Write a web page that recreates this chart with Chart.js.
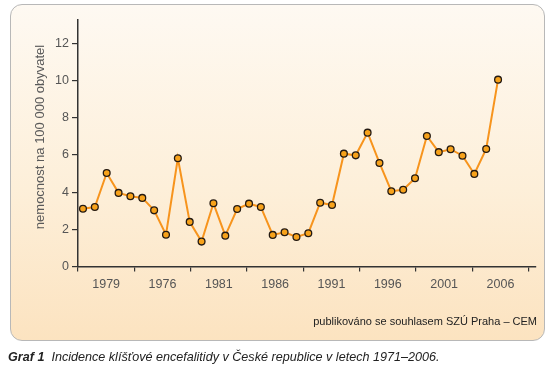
<!DOCTYPE html>
<html>
<head>
<meta charset="utf-8">
<script src="https://cdn.jsdelivr.net/npm/chart.js@4/dist/chart.umd.min.js"></script>
<style>
  html, body { margin: 0; padding: 0; background: #fff; }
  body { width: 552px; height: 372px; position: relative; overflow: hidden; font-family: "Liberation Sans", Arial, sans-serif; }
  #panel {
    position: absolute; left: 10px; top: 4px; width: 533px; height: 335px;
    border: 1px solid #b8b8b8; border-radius: 12px;
    background: linear-gradient(to bottom, #fef9f2 0%, #fdefd9 55%, #fce3c0 100%);
  }
  #chart { position: absolute; left: 0; top: 0; }
  #credit { position: absolute; right: 15px; top: 315px; font-size: 11px; color: #222; }
  #caption { position: absolute; left: 8px; top: 350px; font-size: 12.6px; color: #222; font-style: italic; }
</style>
</head>
<body>
<div id="panel"></div>
<canvas id="chart" width="552" height="372"></canvas>
<div id="credit">publikováno se souhlasem SZÚ Praha – CEM</div>
<div id="caption"><b>Graf 1</b>&nbsp; Incidence klíšťové encefalitidy v České republice v letech 1971–2006.</div>
<script>
// roky a nemocnost na 100 000 obyvatel
const years = [1971, 1972, 1973, 1974, 1975, 1976, 1977, 1978, 1979, 1980,
               1981, 1982, 1983, 1984, 1985, 1986, 1987, 1988, 1989, 1990,
               1991, 1992, 1993, 1994, 1995, 1996, 1997, 1998, 1999, 2000,
               2001, 2002, 2003, 2004, 2005, 2006];
const incidence = [3.11, 3.20, 5.03, 3.96, 3.78, 3.69, 3.02, 1.71, 5.82, 2.40,
                   1.34, 3.40, 1.66, 3.09, 3.38, 3.20, 1.70, 1.84, 1.59, 1.79,
                   3.43, 3.31, 6.07, 5.98, 7.20, 5.57, 4.05, 4.13, 4.75, 7.02,
                   6.15, 6.31, 5.96, 4.98, 6.32, 10.05];
const xLabels = ["1979", "1976", "1981", "1986", "1991", "1996", "2001", "2006"];
const yTicks = [0, 2, 4, 6, 8, 10, 12];

const xMin = 1970.58, xMax = 2009.2, xStep = 4.75;
const fontFam = '"Liberation Sans", Arial, sans-serif';

const yTitle = {
    id: "yTitle",
    afterDraw(chart) {
        const ctx = chart.ctx;
        ctx.save();
        ctx.translate(40, 137);
        ctx.rotate(-Math.PI / 2);
        ctx.font = "13px " + fontFam;
        ctx.fillStyle = "#5a5a5a";
        ctx.textAlign = "center";
        ctx.textBaseline = "middle";
        ctx.fillText("nemocnost na 100 000 obyvatel", 0, 0);
        ctx.restore();
    }
};

const points = years.map((y, i) => ({ x: y, y: incidence[i] }));

new Chart(document.getElementById("chart"), {
    type: "line",
    data: {
        datasets: [{
            data: points,
            borderColor: "#f7941d",
            borderWidth: 2,
            tension: 0,
            pointRadius: 3.4,
            pointBackgroundColor: "#f7a21b",
            pointBorderColor: "#241a12",
            pointBorderWidth: 1.3
        }]
    },
    options: {
        responsive: false,
        animation: false,
        devicePixelRatio: 1,
        layout: { padding: { top: 20, right: 16, left: 0, bottom: 75.5 } },
        plugins: { legend: { display: false }, tooltip: { enabled: false } },
        scales: {
            x: {
                type: "linear",
                min: xMin,
                max: xMax,
                afterBuildTicks: (scale) => {
                    scale.ticks = xLabels.map((l, i) => ({ value: xMin + (i + 0.5) * xStep }));
                },
                afterFit: (scale) => { scale.height = 30; },
                grid: { offset: true, drawOnChartArea: false, drawTicks: true, tickLength: 5, color: "#333", lineWidth: 1.2 },
                border: { display: true, color: "#333", width: 1.5 },
                ticks: {
                    autoSkip: false, maxRotation: 0, padding: 6,
                    color: "#555", font: { family: fontFam, size: 12.5 },
                    callback: (v, i) => xLabels[i]
                }
            },
            y: {
                min: 0,
                max: 13.26,
                afterBuildTicks: (scale) => {
                    scale.ticks = yTicks.map(v => ({ value: v }));
                },
                afterFit: (scale) => { scale.width = 78; },
                grid: { drawOnChartArea: false, drawTicks: true, tickLength: 6, color: "#333", lineWidth: 1.2 },
                border: { display: true, color: "#333", width: 1.5 },
                ticks: {
                    padding: 3, color: "#555", font: { family: fontFam, size: 12.5 },
                    callback: (v) => v
                }
            }
        }
    },
    plugins: [yTitle]
});
</script>
</body>
</html>
